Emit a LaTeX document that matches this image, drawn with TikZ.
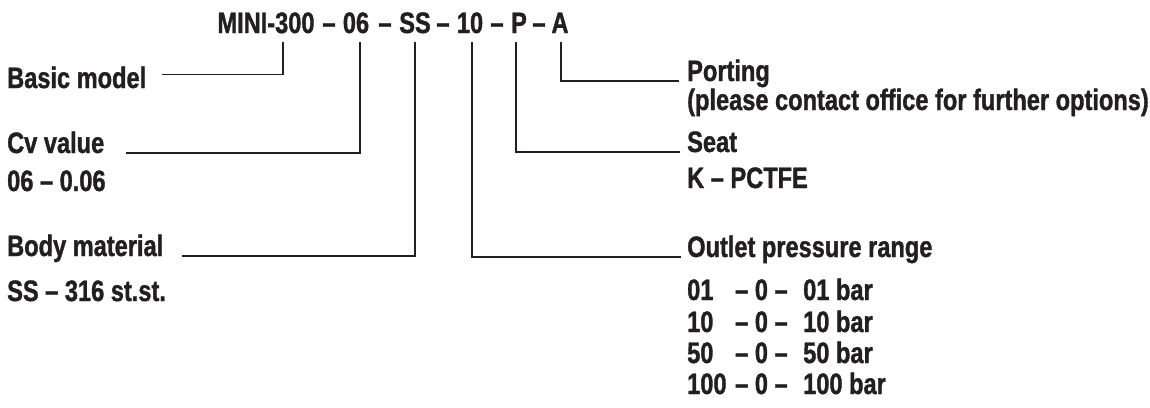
\documentclass[tikz,border=0pt]{standalone}
\usepackage{fontspec}
\setmainfont{Liberation Sans}[FakeStretch=0.80, BoldFeatures={FakeBold=1.2}]
\definecolor{ink}{HTML}{231F20}
\tikzset{
    code/.style={anchor=base, inner xsep=0pt, inner ysep=9pt, text depth=0pt},
    lbl/.style={anchor=base west, inner sep=0pt},
    lead/.style={draw=ink, line width=1.2pt}
}
\begin{document}
\begin{tikzpicture}[x=1pt, y=-1pt, font=\fontsize{29.5pt}{35pt}\selectfont\bfseries, text=ink]
    \useasboundingbox (0,0) rectangle (1150,407);
    \node[code] (base) at (266,33) {MINI-300};
    \node[code] (d1) at (329,33) {--};
    \node[code] (cv) at (356,33) {06};
    \node[code] (d2) at (385,33) {--};
    \node[code] (mat) at (415,33) {SS};
    \node[code] (d3) at (443,33) {--};
    \node[code] (rng) at (470,33) {10};
    \node[code] (d4) at (497,33) {--};
    \node[code] (seat) at (519,33) {P};
    \node[code] (d5) at (539,33) {--};
    \node[code] (port) at (560,33) {A};
    \node[lbl] (baselbl) at (7,88) {Basic model};
    \node[lbl] (cvlbl) at (7,153) {Cv value};
    \node[lbl] (cvval) at (7,191) {06 -- 0.06};
    \node[lbl] (matlbl) at (7,256) {Body material};
    \node[lbl] (matval) at (7,301) {SS -- 316 st.st.};
    \node[lbl] (portlbl) at (687,81) {Porting};
    \node[lbl] (portval) at (687,110) {(please contact office for further options)};
    \node[lbl] (seatlbl) at (687,152) {Seat};
    \node[lbl] (seatval) at (687,188) {K -- PCTFE};
    \node[lbl] (rnglbl) at (687,257) {Outlet pressure range};
    \foreach \v/\y [count=\i] in {01/300,10/332,50/363,100/394} {
        \node[lbl] (lo\i) at (687,\y) {\v};
        \node[lbl] (mid\i) at (735,\y) {-- 0 --};
        \node[lbl] (hi\i) at (803,\y) {\v\ bar};
    }
    \draw[lead] ([xshift=17pt]base.south) |- ([xshift=16pt,yshift=3pt]baselbl.east);
    \draw[lead] ([xshift=4pt]cv.south) |- ([xshift=22pt]cvlbl.base east);
    \draw[lead] (mat.south) |- ([xshift=19pt]matlbl.base east);
    \draw[lead] ([xshift=2pt]rng.south) |- ([xshift=-6pt]rnglbl.base west);
    \draw[lead] ([xshift=-3pt]seat.south) |- ([xshift=-7pt]seatlbl.base west);
    \draw[lead] ([xshift=1pt]port.south) |- ([xshift=-8pt]portlbl.base west);
\end{tikzpicture}
\end{document}
